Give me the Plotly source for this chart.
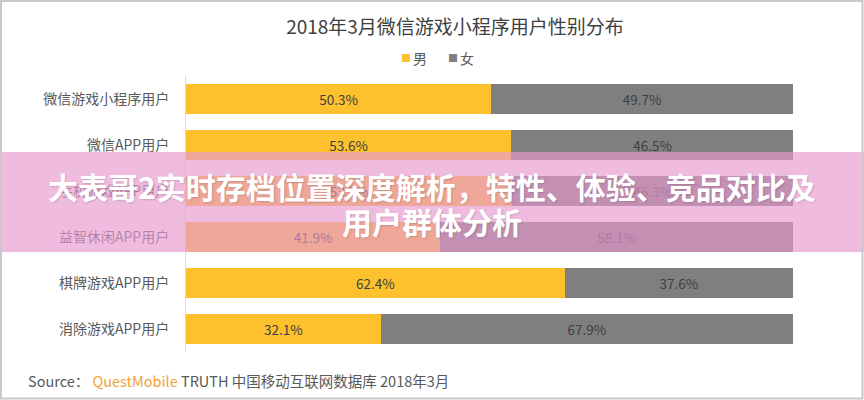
import plotly.graph_objects as go

categories = ["微信游戏小程序用户", "微信APP用户", "手机游戏APP用户", "益智休闲APP用户", "棋牌游戏APP用户", "消除游戏APP用户"]
male = [50.3, 53.6, 53.7, 41.9, 62.4, 32.1]
female = [49.7, 46.5, 46.3, 58.1, 37.6, 67.9]
series_names = ["男", "女"]
series_colors = ["#FCC12D", "#7F7F7F"]
title_text = "2018年3月微信游戏小程序用户性别分布"
banner_lines = ["大表哥2实时存档位置深度解析，特性、体验、竞品对比及", "用户群体分析"]

FONT = "Noto Sans CJK SC, Noto Sans, sans-serif"

fig = go.Figure()
for name, vals, col in zip(series_names, [male, female], series_colors):
    fig.add_trace(go.Bar(
        y=categories, x=vals, name=name, orientation="h",
        marker=dict(color=col, line=dict(width=0)),
        text=[f"{v:.1f}%" for v in vals], textposition="inside",
        insidetextanchor="middle", textfont=dict(color="#404040", size=13.5, family=FONT),
        showlegend=False,
    ))

L, R, T, B = 186, 71, 76, 48
W, H = 864, 400
pw, ph = W - L - R, H - T - B

def px(x):
    return (x - L) / pw

def py(y):
    return (H - B - y) / ph

fig.update_layout(
    width=W, height=H, barmode="stack", bargap=0.35,
    margin=dict(l=L, r=R, t=T, b=B, autoexpand=False),
    paper_bgcolor="white", plot_bgcolor="white",
    font=dict(family=FONT, color="#595959"),
    title=dict(text=title_text, x=455 / W, xanchor="center", xref="container",
               y=1 - 27 / H, yanchor="middle", yref="container",
               font=dict(size=19, color="#404040", family=FONT)),
    showlegend=False,
    xaxis=dict(range=[0, 100], visible=False, fixedrange=True),
    yaxis=dict(autorange="reversed", showline=True, linecolor="#D9D9D9", linewidth=1,
               ticks="", tickfont=dict(size=14, color="#595959"), ticklabelstandoff=13,
               showgrid=False, fixedrange=True),
)

# legend drawn as annotations (compact, like the reference)
for name, col, xs in zip(series_names, series_colors, [399, 446]):
    fig.add_annotation(text=f"<span style='color:{col}'>■</span>", xref="paper", yref="paper",
                       x=px(xs), y=py(58), xanchor="left", yanchor="middle", showarrow=False,
                       font=dict(size=10, family=FONT))
    fig.add_annotation(text=name, xref="paper", yref="paper",
                       x=px(xs + 12), y=py(58), xanchor="left", yanchor="middle", showarrow=False,
                       font=dict(size=14, color="#595959", family=FONT))

# pink banner overlay
fig.add_shape(type="rect", xref="paper", yref="paper",
              x0=px(0), x1=px(W), y0=py(252), y1=py(152),
              fillcolor="rgba(231,154,208,0.66)", line=dict(width=0), layer="above")
for line_text, yc in zip(banner_lines, [186, 221]):
    fig.add_annotation(text=line_text, xref="paper", yref="paper",
                       x=px(432), y=py(yc), xanchor="center", yanchor="middle",
                       showarrow=False, align="center",
                       font=dict(size=30, color="white", family=FONT, weight="bold",
                                 shadow="1px 1px 2px rgba(0,0,0,0.15)"))

# source note
fig.add_annotation(
    text="Source： <span style='color:#F3A23A'>QuestMobile</span> TRUTH 中国移动互联网数据库 2018年3月",
    xref="paper", yref="paper", x=px(26), y=py(380), xanchor="left", yanchor="middle",
    showarrow=False, font=dict(size=14.5, color="#595959", family=FONT))

# outer frame
fig.add_shape(type="rect", xref="paper", yref="paper",
              x0=px(1), x1=px(W - 1.5), y0=py(H - 1.5), y1=py(1),
              line=dict(color="#C8C8C8", width=2), fillcolor="rgba(0,0,0,0)", layer="above")

fig.write_html("out.html", config={"displayModeBar": False},
               post_script="document.body.style.margin='0';document.body.style.overflow='hidden';")
